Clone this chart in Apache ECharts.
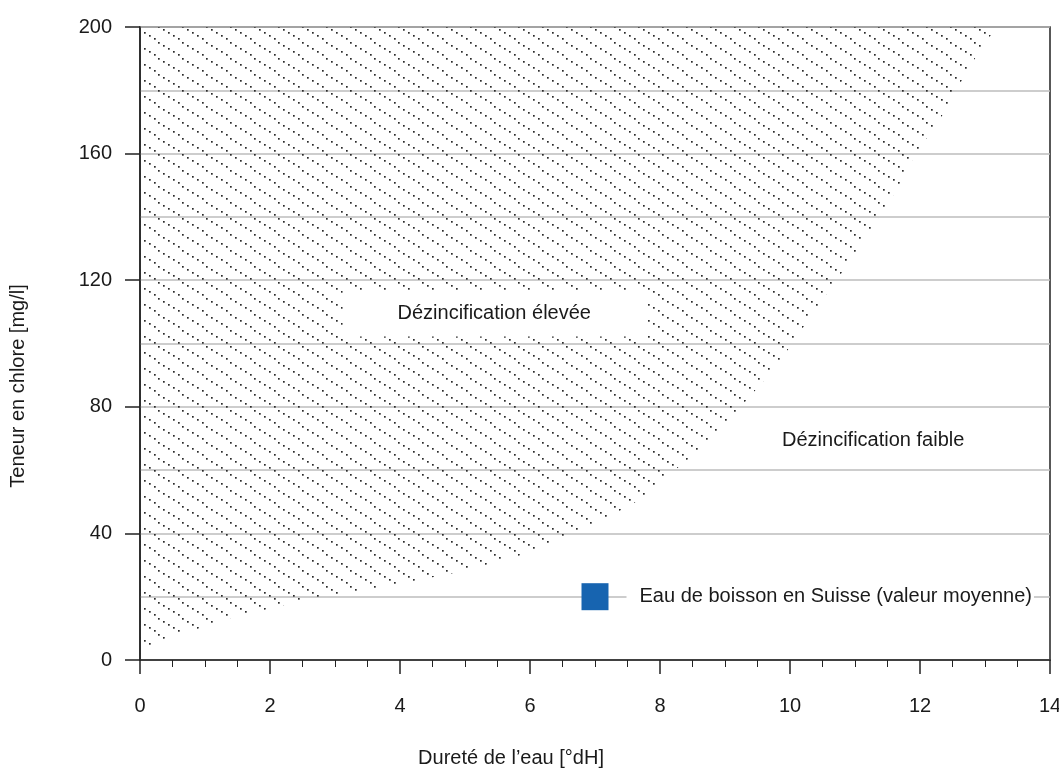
<!DOCTYPE html>
<html><head><meta charset="utf-8">
<script src="https://cdn.jsdelivr.net/npm/echarts@6/dist/echarts.min.js"></script>
<style>html,body{margin:0;padding:0;background:#fff}#c{width:1059px;height:771px}</style>
</head><body><div id="c"></div>
<script>
// Boundary between high and low dezincification (x: hardness °dH, y: chloride mg/l)
const boundaryX = [0, 0.26, 0.49, 0.77, 1.26, 1.54, 2.36, 2.67, 3.56, 5.0, 6.05, 6.5, 7.18, 7.77, 8.1, 8.8, 9.2, 9.74, 10.0, 10.46, 10.82, 11.28, 11.62, 11.92, 12.36, 12.69, 13.0, 13.2];
const boundaryY = [2, 5.8, 7.6, 8.9, 12.6, 13.9, 18.1, 19.2, 22.3, 28.2, 34.2, 38.4, 44.9, 51.6, 57.9, 69.5, 79, 91.6, 99, 112.8, 123, 137.3, 147.9, 159.5, 172.6, 184.8, 195.3, 200];

const highLabel = 'Dézincification élevée';
const highPos = [5.45, 109.5];
const lowLabel = 'Dézincification faible';
const lowPos = [11.28, 69.2];
const swissLabel = 'Eau de boisson en Suisse (valeur moyenne)';
const swissPoint = [7, 20];

const xAxisName = 'Dureté de l’eau [°dH]';
const yAxisName = 'Teneur en chlore [mg/l]';
const xRange = [0, 14, 2];
const yRange = [0, 200, 40];

const FONT = '"Liberation Sans", Arial, sans-serif';
const TXT = '#1a1a1a';

function hatchPattern() {
  const c = document.createElement('canvas');
  c.width = 24; c.height = 16;
  const g = c.getContext('2d');
  g.fillStyle = '#2a2a2a';
  for (let i = 0; i < 5; i++) {
    g.fillRect(Math.round(i * 4.8), Math.round(i * 3.2), 1.7, 1.7);
  }
  return c;
}

const chart = echarts.init(document.getElementById('c'), null, {renderer: 'canvas'});
chart.setOption({
  animation: false,
  backgroundColor: '#fff',
  grid: {left: 140, right: 9, top: 27, bottom: 111, show: true, borderColor: '#222', borderWidth: 1.5,
    backgroundColor: 'transparent', outerBoundsMode: 'none', containLabel: false},
  xAxis: {
    type: 'value', min: xRange[0], max: xRange[1], interval: xRange[2],
    axisLine: {show: true, onZero: false, lineStyle: {color: '#222', width: 1.5}},
    axisTick: {show: true, length: 14, lineStyle: {color: '#222', width: 1.5}},
    minorTick: {show: true, splitNumber: 4, length: 7, lineStyle: {color: '#222', width: 1}},
    splitLine: {show: false},
    axisLabel: {margin: 36, fontSize: 20, color: TXT, fontFamily: FONT}
  },
  yAxis: {
    type: 'value', min: yRange[0], max: yRange[1], interval: yRange[2],
    axisLine: {show: true, lineStyle: {color: '#222', width: 1.5}},
    axisTick: {show: true, length: 15, lineStyle: {color: '#222', width: 1.5}},
    minorTick: {show: false, splitNumber: 2},
    splitLine: {show: true, lineStyle: {color: '#bdbdbd', width: 1.5}},
    minorSplitLine: {show: true, lineStyle: {color: '#bdbdbd', width: 1.5}},
    axisLabel: {margin: 28, fontSize: 20, color: TXT, fontFamily: FONT}
  },
  graphic: [
    {type: 'text', x: 18, y: 386, rotation: Math.PI / 2,
     style: {text: yAxisName, fill: TXT, font: '20px ' + FONT, textAlign: 'center', textVerticalAlign: 'middle'}},
    {type: 'text', x: 511, y: 758,
     style: {text: xAxisName, fill: TXT, font: '20px ' + FONT, textAlign: 'center', textVerticalAlign: 'middle'}}
  ],
  series: [
    {
      type: 'line', silent: true, showSymbol: false, z: 1,
      data: boundaryX.map((x, i) => [x, boundaryY[i]]),
      lineStyle: {width: 0, opacity: 0},
      areaStyle: {origin: 'end', opacity: 1, color: {image: hatchPattern(), repeat: 'repeat'}}
    },
    {
      type: 'scatter', silent: true, z: 5, symbolSize: 0, itemStyle: {color: 'rgba(0,0,0,0)', opacity: 1},
      data: [
        {value: highPos, label: {show: true, position: 'inside', formatter: highLabel, fontSize: 20, fontFamily: FONT, color: TXT,
          backgroundColor: '#fff', width: 303, height: 46, lineHeight: 46, align: 'center', verticalAlign: 'middle'}},
        {value: lowPos, label: {show: true, position: 'inside', formatter: lowLabel, fontSize: 20, fontFamily: FONT, color: TXT}}
      ]
    },
    {
      type: 'scatter', silent: true, z: 6, symbol: 'rect', symbolSize: 27,
      itemStyle: {color: '#1764b0', opacity: 1},
      data: [swissPoint],
      label: {show: true, position: 'right', distance: 18, formatter: swissLabel, fontSize: 20, fontFamily: FONT, color: TXT,
        backgroundColor: '#fff', padding: [4, 2, 4, 13]}
    }
  ]
});
</script>
</body></html>
